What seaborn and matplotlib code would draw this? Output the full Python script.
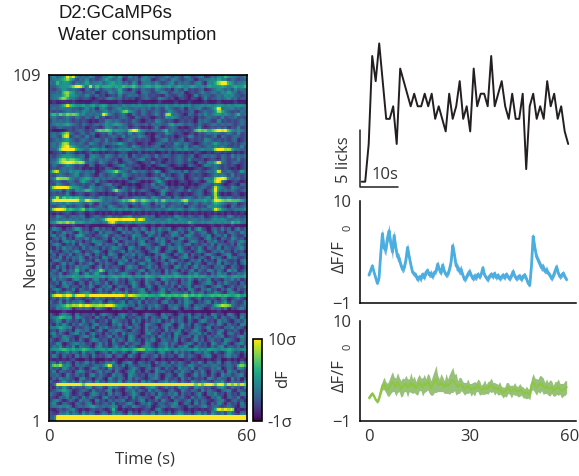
#!/usr/bin/env python3
import matplotlib
matplotlib.use('Agg')
import matplotlib.pyplot as plt
import numpy as np
import seaborn as sns

W, H = 579, 476

TITLE_LINES = ['D2:GCaMP6s', 'Water consumption']
LINE_BLACK = '#231f20'
TEXT_GREY = '#333333'
BLUE = '#4aaee0'
BLUE_BAND = '#5a9fd8'
GREEN = '#8dc63f'
GREEN_BAND = '#74ad4c'

# heatmap cells, top row first, 0 = -1 sigma, 9 = 10 sigma
HEAT_ROWS = [
    '2423496932 3243113354 2521423034 2312243132 1431234013 2436433224',
    '2334575313 2412123532 3401223143 3012321432 1232022334 3533132122',
    '3263443132 3523342345 3423143033 3242123413 2321342043 5799542334',
    '2234445799 5293645554 5465565345 5455445345 4345434354 4454345446',
    '2123432321 0321412332 3521032132 2143212032 1412123012 3432314232',
    '2232675423 1223012143 2532231033 2123431232 3012124223 3243533123',
    '2333574432 2421312012 1412323123 1211032113 2101412321 2324342212',
    '2336753321 2210121343 2312120123 2114321201 2102101412 2323423122',
    '0100000100 0001100000 0100000100 0001000010 0010000100 0100001000',
    '2223596544 5345345423 3243343433 4343343343 4342334343 4443434443',
    '2323333221 2423034212 3423223232 3132143212 3032342123 5923342323',
    '2121233232 4323223423 2367432132 1232124321 2123012322 4753212132',
    '4647576763 4232329632 1231032132 1242178232 1032132423 4434323623',
    '2321232132 1321412012 1232103212 1012143432 1212021232 2141223121',
    '1323232121 2101021432 3212132101 2143212101 2121032321 1412121232',
    '2343454321 3212323434 5432123223 1323224534 3232132123 3232321232',
    '2123222121 2012101432 1323012101 0141012320 1012141012 1212021412',
    '1000012123 2121676764 5443799543 2332462322 1212676756 8989643432',
    '2323683212 3123012141 2321412320 1012143212 1012021232 3212321412',
    '2321791232 1412012123 2141232432 1032121201 2143121212 3032123212',
    '1232343212 3212321412 1012321212 1012341212 3012121432 1212123012',
    '2324773323 2143212323 3532121012 0123212143 2321012323 5323212123',
    '2325795432 2312213012 1232143212 1232021232 1412321232 3232112141',
    '2237999954 3245434323 3434423323 3323323234 3433234333 8997853322',
    '0112032101 0120101011 0121010201 0100102010 1010210010 1101010102',
    '2123444323 3034321432 1323032123 2141232123 2123012323 2132142323',
    '2236756654 2143232321 2023212341 2012102123 2141212012 1032121412',
    '2347899878 7232143212 3012321012 1412012123 2121032143 6932123212',
    '1321243212 1032012101 2341212101 2012321012 1032101432 3212121012',
    '1212323212 0101010321 0123210101 0100012100 0000121012 3212101012',
    '2792324343 2323012345 8432143232 1253012323 1412321232 4922321252',
    '2123212341 2321032123 2143212121 0121412012 3012121012 3232141212',
    '2387774323 4542323232 2323012323 2342143212 3012321432 7898322312',
    '1232123213 5321412101 0101232101 0135210101 2101210143 8931012101',
    '2143212321 2123012341 2101010012 1412310101 0101012321 3210121032',
    '2899996443 2143232123 1032121012 1232141212 3012123212 9432143212',
    '2323032143 4653232125 8432141232 1012432123 2141232023 9323232123',
    '1212141012 1012101010 1212010101 2101410121 0101232012 8101012101',
    '2382645454 3232143232 3012123232 1432123032 1232132341 8422321212',
    '2999999995 5976653232 3465796576 5463754544 7843444534 9876766653',
    '2323243233 2141032321 1232132143 2032321223 1412312323 5432123012',
    '2123412123 2021232143 2123012123 2121412322 2023212143 4321032123',
    '2899856545 7354323234 3434343323 3233234334 3234323323 9643223334',
    '1010121012 1011010101 0100010101 0101010010 1010101010 1010101010',
    '2143212323 3012321231 2123412123 2301212143 2132123012 3221431212',
    '2232323232 3234234899 9899995983 3233234324 3323323223 4343223323',
    '3467686745 4343323378 4343434434 3433434343 4364334344 3434364533',
    '0100000100 0100000001 0001000110 0100100000 0001000001 0010010000',
    '1432021354 1202413120 2413033142 0314224013 2140352102 3141302413',
    '3021423104 2312041332 1042313204 2413102341 3024123301 4120332142',
    '2413302145 3120223411 3202143310 4213021432 0342113240 2314032113',
    '0231412032 2413112304 1322041323 1042312203 4132210341 2032143120',
    '3120342413 0214332102 4013221340 2132410323 1024312032 4120231342',
    '1342021304 2210341322 0413120343 2102413023 1340212314 0322130421',
    '2031423120 4132203124 3210431202 3142013324 2103142032 1403212341',
    '4120231342 0213421032 1240313210 2341023104 3120243102 3241203120',
    '1303214023 1420312043 2013241320 1032421031 2403120342 1023410232',
    '2214031324 2031204312 3041220314 2130432102 3412023104 2310423112',
    '0342120314 3120421302 1324032113 4021302431 2013240312 0423112034',
    '3102413203 1242031321 0431220341 3210241303 1240321032 1403213024',
    '2041302142 3310240312 2103423012 4130221043 1302413210 3241032102',
    '1320413262 3042376132 4103221340 2312041320 3124032143 1320524013',
    '3214012340 2413521032 1243102304 1322041342 1032421203 1423021324',
    '2324344544 4554445345 5454534445 5434545455 4454545434 3454345445',
    '0413210342 1203412032 4120331204 2310432120 3142031240 2103241302',
    '2130423103 2041321402 3120243104 2132041320 3241012342 0314212031',
    '3201341220 3142013240 1322043102 4103221304 1240323102 3420131224',
    '1342021403 2130241320 4103122340 3102413120 2043103241 2031420312',
    '2031243102 3420131204 2314021342 0213410322 1304123021 4210342103',
    '2899799599 9699999999 9995987656 5545656565 6756565456 5656545645',
    '1203141021 0120312010 2102013140 2131023012 1420130212 1032012310',
    '3114031324 2013241032 1240321403 1220341203 1432021340 3124032114',
    '2234576879 7987787998 5443230321 3242103232 1420323212 5687732123',
    '2143454023 2320432103 2412013320 4132102341 0321432013 2314021342',
    '0000100000 0000000000 0000100000 0000000001 0000000000 0100000000',
    '3103432041 2213024321 0342132014 3210423102 3140231204 3120431032',
    '2346545043 2120412031 3240212314 0321340213 2041320321 4032132041',
    '1243032120 4123021304 3212041302 1324021413 2031024312 0423102314',
    '2031420314 2203412103 2413023104 3210234102 4130321023 1420312043',
    '3345434021 2314032412 1302413204 1230241203 4120331240 2103241320',
    '1204312043 2310241032 4321032104 2312041324 0213421032 1340213102',
    '2413102341 3024120313 2041322103 4120312043 1023241302 1420331204',
    '0321432102 3413021240 3120431022 1304213041 2230412031 3240121342',
    '3102341203 1024312204 1320431203 2410322140 3102413023 1204321032',
    '2143012342 3120241303 2104123204 3102341320 1242031204 3124102341',
    '1324021403 2210341202 4130231024 3102241303 2410321203 1340221304',
    '3445654544 6543445354 4455456774 5435454343 4344534354 4344543344',
    '2031241320 4123012304 2131042013 2203412041 3120231420 3102431203',
    '1420312041 3204121340 2310421032 1240312203 4132102341 0213423102',
    '1010101200 0101000101 1001010010 1200101010 0120101010 1200101010',
    '2304132031 2413021324 1023410321 2041320413 2103142032 1402312041',
    '2768343032 3212323692 3140321232 3012323123 2143212323 3212321675',
    '3120431203 1024312041 3210243102 3142031204 2314032113 2401320431',
    '1403212034 3120241320 4102341203 1042312031 4220314103 2130423021',
    '2231042131 2034132104 2310432120 3241023104 3102413203 1042312340',
    '0314232103 4120231042 1320413210 2341032120 4130212043 1322041302',
    '3102421304 1230412032 1402312041 3102241320 3104213210 3241031204',
    '1299999999 6999999999 9999999999 9999999999 9999696999 6995969696',
    '2031420312 1340231042 3102413102 3420131204 2310423120 1342031204',
    '1234543012 3204121340 2103241320 4132102310 4213204132 1023410321',
    '3210342013 1024312041 3201243102 1304213240 3120241032 4120312043',
    '2103241320 4132103412 0213041322 1043120412 3104132103 2410321402',
    '1342013204 2310412031 3240121340 2130421032 1240313210 2341023120',
    '2410321032 1340212314 0213420132 4103212340 1320413203 1420312041',
    '2334343023 2345323234 3032143212 3012321432 1032123412 3212321032',
    '1012123410 1012121016 1010101012 1034101012 1010101012 5979790101',
    '2103241320 4132013204 2310412032 1403213024 3120241304 2130421032',
    '2299999999 9999999999 9999999999 9999999999 9999999999 9999999999',
    '2299999999 9999999999 9999999999 9999999999 9999999999 9999999999',
]

# licks per second
LICKS = [0, 0, 3, 10, 8, 11, 8, 5, 5, 6, 3, 9, 8, 7, 6, 7, 6, 6, 7, 6,
         7, 5, 6, 5, 4, 7, 5, 6, 8, 5, 6, 4, 9, 6, 7, 7, 6, 10, 6, 7,
         8, 6, 5, 7, 5, 5, 7, 1, 6, 7, 5, 6, 5, 8, 6, 7, 5, 6, 4, 3]

# dF/F at half second steps, one line per 5 s
BLUE_MEAN = [
    2.0, 2.5, 3.0, 2.3, 1.7, 1.1, 1.7, 4.3, 6.5, 4.9,
    4.7, 6.0, 6.8, 5.4, 4.5, 6.3, 4.9, 4.0, 3.8, 3.1,
    2.6, 2.8, 3.6, 5.0, 4.0, 3.1, 2.3, 2.1, 2.0, 1.5,
    1.8, 1.6, 2.1, 1.7, 2.3, 2.5, 2.0, 2.2, 1.8, 2.3,
    2.4, 3.2, 2.6, 2.2, 3.1, 2.4, 2.0, 2.1, 2.6, 3.4,
    5.2, 4.2, 3.0, 2.8, 2.4, 2.6, 2.0, 1.5, 1.7, 2.1,
    2.4, 2.0, 1.6, 1.9, 1.7, 2.1, 1.8, 2.1, 2.8, 2.0,
    1.7, 1.5, 1.9, 2.1, 1.8, 2.2, 1.7, 2.0, 1.6, 1.8,
    2.0, 1.7, 2.1, 1.8, 1.6, 1.9, 2.4, 1.9, 1.6, 1.8,
    1.9, 1.5, 1.9, 2.0, 1.6, 1.1, 0.9, 3.0, 6.2, 5.0,
    4.0, 3.6, 3.2, 2.8, 2.9, 2.4, 2.6, 2.2, 2.0, 1.6,
    1.9, 2.4, 2.9, 2.2, 1.8, 2.0, 2.2, 1.8, 1.5,
]
BLUE_SEM = [
    0.2, 0.2, 0.3, 0.2, 0.3, 0.2, 0.3, 0.4, 0.6, 0.5,
    0.6, 0.7, 0.7, 0.6, 0.8, 0.6, 0.7, 0.5, 0.5, 0.4,
    0.4, 0.4, 0.4, 0.5, 0.4, 0.3, 0.3, 0.3, 0.3, 0.3,
    0.3, 0.4, 0.3, 0.3, 0.4, 0.3, 0.3, 0.4, 0.3, 0.3,
    0.3, 0.4, 0.3, 0.3, 0.4, 0.3, 0.3, 0.3, 0.4, 0.4,
    0.5, 0.5, 0.5, 0.4, 0.4, 0.5, 0.3, 0.3, 0.3, 0.3,
    0.4, 0.3, 0.3, 0.4, 0.3, 0.3, 0.3, 0.3, 0.3, 0.3,
    0.3, 0.3, 0.3, 0.3, 0.3, 0.3, 0.3, 0.3, 0.3, 0.3,
    0.3, 0.3, 0.3, 0.3, 0.3, 0.3, 0.4, 0.3, 0.3, 0.3,
    0.3, 0.3, 0.3, 0.3, 0.3, 0.3, 0.2, 0.3, 0.4, 0.4,
    0.4, 0.4, 0.4, 0.4, 0.4, 0.3, 0.4, 0.3, 0.3, 0.3,
    0.3, 0.4, 0.4, 0.3, 0.3, 0.3, 0.3, 0.3, 0.2,
]
GREEN_MEAN = [
    1.5, 1.8, 2.0, 1.7, 1.3, 1.1, 1.5, 2.2, 2.9, 3.1,
    2.7, 2.4, 2.6, 3.0, 3.3, 3.0, 2.7, 3.2, 3.0, 2.5,
    2.7, 2.9, 3.1, 2.6, 2.9, 3.2, 2.8, 3.0, 2.6, 2.8,
    3.2, 3.0, 2.7, 3.1, 2.9, 3.3, 3.0, 2.6, 2.9, 3.3,
    3.6, 3.1, 2.9, 3.2, 3.0, 2.7, 3.1, 2.8, 3.0, 3.3,
    3.5, 3.2, 3.0, 2.7, 2.9, 3.0, 2.7, 2.5, 2.6, 2.8,
    2.6, 2.4, 2.6, 2.5, 2.7, 2.9, 2.6, 2.4, 2.5, 2.7,
    2.5, 2.6, 2.8, 2.9, 2.7, 2.5, 2.6, 2.4, 2.6, 2.3,
    2.1, 2.2, 2.4, 2.6, 2.4, 2.2, 2.4, 2.5, 2.3, 2.2,
    2.4, 2.3, 2.1, 2.0, 2.1, 2.0, 1.9, 3.0, 3.3, 2.9,
    2.7, 2.9, 3.0, 3.1, 2.8, 2.6, 2.8, 2.5, 2.6, 2.7,
    2.3, 2.5, 2.6, 2.7, 2.5, 2.3, 2.4, 2.6, 2.7,
]
GREEN_SEM = [
    0.2, 0.2, 0.2, 0.2, 0.2, 0.2, 0.3, 0.4, 0.5, 0.7,
    0.6, 0.7, 0.9, 1.0, 1.1, 0.8, 1.0, 1.1, 0.8, 0.9,
    1.0, 0.7, 0.9, 1.0, 0.7, 1.1, 0.8, 0.9, 0.7, 1.0,
    0.9, 0.7, 1.0, 1.0, 0.7, 0.9, 1.0, 0.8, 1.1, 1.2,
    1.5, 0.9, 0.7, 1.0, 0.8, 0.7, 1.1, 0.8, 1.1, 1.2,
    1.4, 0.9, 1.2, 0.7, 0.9, 0.7, 0.6, 0.7, 0.6, 0.8,
    0.5, 0.7, 0.6, 0.8, 0.5, 0.7, 0.8, 0.5, 0.6, 0.8,
    0.5, 0.7, 0.6, 0.8, 0.5, 0.7, 0.5, 0.6, 0.7, 0.5,
    0.6, 0.5, 0.8, 0.6, 0.5, 0.7, 0.5, 0.7, 0.5, 0.6,
    0.7, 0.5, 0.6, 0.5, 0.7, 0.5, 0.6, 0.7, 0.9, 0.8,
    0.9, 0.7, 1.0, 0.8, 0.9, 0.6, 0.8, 0.7, 0.9, 0.7,
    0.6, 0.8, 0.7, 0.9, 0.6, 0.8, 0.7, 0.8, 0.7,
]


def px_axes(fig, left, top, right, bottom):
    return fig.add_axes([left / W, 1 - bottom / H, (right - left) / W, (bottom - top) / H])


def px_text(fig, x, y, s, **kwargs):
    kwargs.setdefault('ha', 'center')
    kwargs.setdefault('va', 'center')
    kwargs.setdefault('color', TEXT_GREY)
    return fig.text(x / W, 1 - y / H, s, **kwargs)


def soften(cells):
    # the reference heatmap is a resampled image, so soften the cell edges a little
    fine = np.kron(cells, np.ones((2, 2)))
    fine = np.apply_along_axis(np.convolve, 1, fine, [0.2, 0.6, 0.2], mode='same')
    fine = np.apply_along_axis(np.convolve, 0, fine, [0.12, 0.76, 0.12], mode='same')
    # convolve leaves the outer edge too dark
    fine[[0, -1], :] = fine[[1, -2], :]
    fine[:, [0, -1]] = fine[:, [1, -2]]
    return fine


def draw_heatmap(fig):
    ax = px_axes(fig, 49, 75, 247, 421)
    cax = px_axes(fig, 253, 339, 262, 421)
    cells = np.array([[int(c) for c in row.replace(' ', '')] for row in HEAT_ROWS], dtype=float)
    fine = soften(cells)
    sns.heatmap(fine, ax=ax, cbar_ax=cax, cmap='viridis', vmin=-0.4, vmax=8,
                xticklabels=False, yticklabels=False)
    ax.set_xticks([0, fine.shape[1]], ['0', '60'])
    ax.set_yticks([0, fine.shape[0]], ['109', '1'], rotation=0)
    ax.tick_params(length=4, width=1, labelsize=12, color='black', labelcolor=TEXT_GREY, pad=2)
    for spine in ax.spines.values():
        spine.set_visible(True)
        spine.set_linewidth(1.2)
        spine.set_color('black')
    cbar = ax.collections[0].colorbar
    cbar.set_ticks([-0.4, 8], labels=['-1σ', '10σ'])
    cbar.ax.tick_params(length=0, labelsize=12, labelcolor=TEXT_GREY, pad=4)
    cbar.outline.set_visible(True)
    cbar.outline.set_linewidth(1.2)
    cbar.outline.set_edgecolor('black')
    px_text(fig, 30, 254, 'Neurons', rotation=90, fontsize=12)
    px_text(fig, 145, 459, 'Time (s)', fontsize=12)
    px_text(fig, 283, 379, 'dF', rotation=90, fontsize=12)


def draw_licks(fig):
    # 3.5 px per second, 12.57 px per lick
    ax = px_axes(fig, 355, 40, 575, 190)
    ax.set_xlim((355 - 361.7) / 3.5, (575 - 361.7) / 3.5)
    ax.set_ylim((181.7 - 190) / 12.57, (181.7 - 40) / 12.57)
    ax.axis('off')
    sns.lineplot(x=np.arange(len(LICKS)), y=LICKS, ax=ax, color=LINE_BLACK, linewidth=1.4, legend=False)
    # scale bar
    ax.plot([-0.6, -0.6, 10.3], [4.13, -0.4, -0.4], color=LINE_BLACK, lw=1.1, clip_on=False)
    px_text(fig, 344, 160, '5 licks', rotation=90, fontsize=12)
    px_text(fig, 385, 175, '10s', fontsize=12)


def draw_trace(fig, top, bottom, mean, sem, line_color, band_color, band_alpha, line_width, show_labels):
    ax = px_axes(fig, 359.7, top, 575.7, bottom)
    t = np.arange(len(mean)) * 0.5
    mean = np.array(mean)
    sem = np.array(sem)
    ax.fill_between(t, mean - sem, mean + sem, color=band_color, alpha=band_alpha, lw=0)
    sns.lineplot(x=t, y=mean, ax=ax, color=line_color, linewidth=line_width, legend=False)
    ax.set_xlim(-2.78, 61.7)
    ax.set_ylim(-1, 10)
    ax.set_xticks([0, 30, 60])
    ax.set_yticks([-1, 10])
    ax.set_xticklabels(['0', '30', '60'] if show_labels else [])
    ax.tick_params(length=4, width=1, labelsize=12, color='black', labelcolor=TEXT_GREY, pad=2)
    sns.despine(ax=ax)
    for side in ('left', 'bottom'):
        ax.spines[side].set_linewidth(1.1)
        ax.spines[side].set_color('black')
    mid = (top + bottom) / 2
    px_text(fig, 340, mid + 5, 'ΔF/F', rotation=90, fontsize=12)
    px_text(fig, 348, mid - 24, '0', rotation=90, fontsize=8)


def main():
    sns.set_style('white')
    plt.rcParams['font.family'] = ['Open Sans', 'DejaVu Sans']
    fig = plt.figure(figsize=(W / 100, H / 100), dpi=100)

    px_text(fig, 58, 14, TITLE_LINES[0], ha='left', fontsize=13.3, color='#1a1a1a', family='Liberation Sans')
    px_text(fig, 58, 36, TITLE_LINES[1], ha='left', fontsize=13.3, color='#1a1a1a', family='Liberation Sans')

    draw_heatmap(fig)
    draw_licks(fig)
    draw_trace(fig, 201.3, 302.7, BLUE_MEAN, BLUE_SEM, BLUE, BLUE_BAND, 0.8, 2.0, False)
    draw_trace(fig, 320.7, 420.7, GREEN_MEAN, GREEN_SEM, GREEN, GREEN_BAND, 0.75, 1.5, True)

    fig.savefig('out.png', dpi=100)


if __name__ == '__main__':
    main()
